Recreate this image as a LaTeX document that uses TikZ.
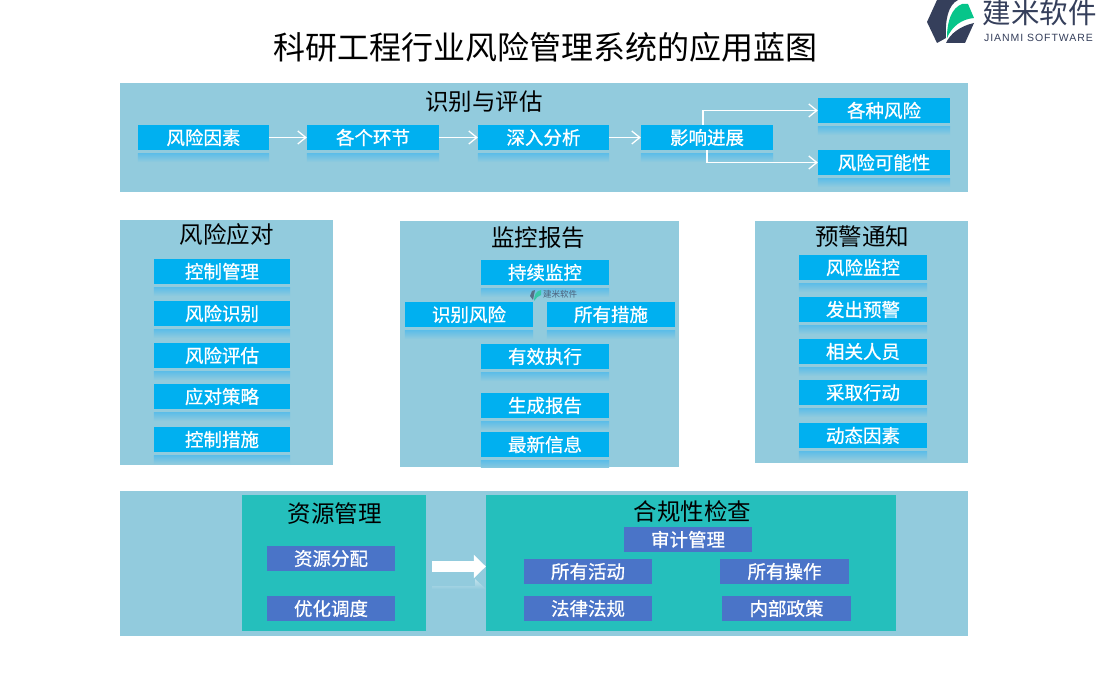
\documentclass[tikz,border=0pt]{standalone}
\usepackage{fontspec}
\setmainfont[RawFeature={embolden=0.8}]{Noto Sans CJK SC}
\newfontfamily\plaincjk{Noto Sans CJK SC}
\newfontfamily\latinlogo[LetterSpace=9]{Liberation Sans}
\usetikzlibrary{arrows.meta}
\definecolor{panelbg}{HTML}{92CBDD}
\definecolor{cyanbox}{HTML}{00B0F0}
\definecolor{reflbox}{HTML}{5CBDE8}
\definecolor{bluebox}{HTML}{4A74C8}
\definecolor{tealbox}{HTML}{25BFBC}
\definecolor{logodark}{HTML}{353F5B}
\definecolor{logogreen}{HTML}{06C58A}
\newcommand{\cjksize}[1]{\fontsize{#1}{#1}\selectfont}
\newcommand{\reflect}[1]{\shade[top color=reflbox,bottom color=panelbg] ([yshift=-3pt]#1.south west) rectangle ([yshift=-12pt]#1.south east);}
\tikzset{
  panel/.style={fill=panelbg,draw=none,inner sep=0pt},
  cyan box/.style={fill=cyanbox,text=white,inner sep=0pt,minimum height=25pt,font=\cjksize{18.5}},
  blue box/.style={fill=bluebox,text=white,inner sep=0pt,minimum width=128pt,minimum height=25pt,font=\cjksize{18.5}},
  teal panel/.style={fill=tealbox,inner sep=0pt},
  section title/.style={text=black,inner sep=0pt,font=\plaincjk\cjksize{23.5}},
  link/.style={draw=white,line width=1.3pt,-{Straight Barb[length=8pt,width=13pt,line width=1.3pt]}},
}
\begin{document}
\begin{tikzpicture}[x=1pt,y=-1pt]
\useasboundingbox (0,0) rectangle (1100,700);
\fill[white] (0,0) rectangle (1100,700);

% title and logo
\node[inner sep=0pt,font=\plaincjk\cjksize{32},text=black] (title) at (545,47) {科研工程行业风险管理系统的应用蓝图};
\fill[logodark] (937,0) -- (958,0) .. controls (948,5) and (945,20) .. (946,38) -- (937,43) -- (927,22) -- cycle;
\fill[logogreen] (947,38) .. controls (947,20) and (952,8) .. (962,4) -- (968,4) -- (974,18) .. controls (962,19) and (952,26) .. (947,38) -- cycle;
\fill[logodark] (946,43) .. controls (950,34) and (960,26) .. (974,23) -- (965,43) -- cycle;
\node[inner sep=0pt,font=\plaincjk\cjksize{28.5},text=logodark] (logotext) at (1039.5,13) {建米软件};
\node[inner sep=0pt,font=\latinlogo\fontsize{10.5}{11}\selectfont,text=logodark] (logosub) at (1038.5,38) {JIANMI SOFTWARE};

% panels
\node[panel,minimum width=848pt,minimum height=109pt] (p1) at (544,137.5) {};
\node[panel,minimum width=213pt,minimum height=245pt] (p2) at (226.5,342.5) {};
\node[panel,minimum width=279pt,minimum height=246pt] (p3) at (539.5,344) {};
\node[panel,minimum width=213pt,minimum height=242pt] (p4) at (861.5,342) {};
\node[panel,minimum width=848pt,minimum height=145pt] (p5) at (544,563.5) {};

% identification
\node[section title] (t1) at (484,102) {识别与评估};
\node[cyan box,minimum width=131pt] (a1) at (203.5,137.5) {风险因素};
\node[cyan box,minimum width=132pt] (a2) at (373,137.5) {各个环节};
\node[cyan box,minimum width=131pt] (a3) at (543.5,137.5) {深入分析};
\node[cyan box,minimum width=132pt] (a4) at (707,137.5) {影响进展};
\node[cyan box,minimum width=132pt] (a5) at (884,110.5) {各种风险};
\node[cyan box,minimum width=132pt] (a6) at (884,162.5) {风险可能性};
\foreach \n in {a1,a2,a3,a4,a5,a6} {\reflect{\n}}
\draw[link] (a1) -- (a2);
\draw[link] (a2) -- (a3);
\draw[link] (a3) -- (a4);
\draw[link] ([xshift=-4pt]a4.north) |- (a5.west);
\draw[link] (a4.south) |- (a6.west);

% response
\node[section title] (t2) at (226.5,235) {风险应对};
\node[cyan box,minimum width=136pt] (b1) at (222,271.5) {控制管理};
\node[cyan box,minimum width=136pt] (b2) at (222,313.5) {风险识别};
\node[cyan box,minimum width=136pt] (b3) at (222,355.5) {风险评估};
\node[cyan box,minimum width=136pt] (b4) at (222,396.5) {应对策略};
\node[cyan box,minimum width=136pt] (b5) at (222,439.5) {控制措施};
\foreach \n in {b1,b2,b3,b4,b5} {\reflect{\n}}

% monitoring
\node[section title] (t3) at (538,238) {监控报告};
\node[cyan box,minimum width=128pt] (c1) at (545,272.5) {持续监控};
\node[cyan box,minimum width=128pt] (c2) at (469,314.5) {识别风险};
\node[cyan box,minimum width=128pt] (c3) at (611,314.5) {所有措施};
\node[cyan box,minimum width=128pt] (c4) at (545,356.5) {有效执行};
\node[cyan box,minimum width=128pt] (c5) at (545,405.5) {生成报告};
\node[cyan box,minimum width=128pt] (c6) at (545,444.5) {最新信息};
\foreach \n in {c1,c2,c3,c4,c5} {\reflect{\n}}
\begin{scope}
\clip (p3.north west) rectangle (p3.south east);
\reflect{c6}
\end{scope}
\fill[logodark!65!panelbg] (532,291) -- (535,290) -- (533,300) -- (530,296) -- cycle;
\fill[logogreen!65!panelbg] (534,301) .. controls (534,295) and (536,291) .. (541,290) -- (541,295) .. controls (538,296) and (536,298) .. (534,301) -- cycle;
\node[inner sep=0pt,font=\plaincjk\cjksize{8.5},text=logodark!75!panelbg] (wm) at (560,294.5) {建米软件};

% warning
\node[section title] (t4) at (862,237) {预警通知};
\node[cyan box,minimum width=128pt] (d1) at (863,267.5) {风险监控};
\node[cyan box,minimum width=128pt] (d2) at (863,309.5) {发出预警};
\node[cyan box,minimum width=128pt] (d3) at (863,351.5) {相关人员};
\node[cyan box,minimum width=128pt] (d4) at (863,392.5) {采取行动};
\node[cyan box,minimum width=128pt] (d5) at (863,435.5) {动态因素};
\foreach \n in {d1,d2,d3,d4,d5} {\reflect{\n}}

% bottom
\node[teal panel,minimum width=184pt,minimum height=136pt] (e0) at (334,563) {};
\node[teal panel,minimum width=410pt,minimum height=136pt] (f0) at (691,563) {};
\node[section title] (t5) at (334.5,514) {资源管理};
\node[section title] (t6) at (692.5,511) {合规性检查};
\node[blue box] (e1) at (331,558.5) {资源分配};
\node[blue box] (e2) at (331,608.5) {优化调度};
\node[blue box] (f1) at (688,539.5) {审计管理};
\node[blue box] (f2) at (588,571.5) {所有活动};
\node[blue box,minimum width=129pt] (f3) at (784.5,571.5) {所有操作};
\node[blue box] (f4) at (588,608.5) {法律法规};
\node[blue box,minimum width=129pt] (f5) at (786.5,608.5) {内部政策};

% big arrow
\coordinate (arrowstart) at (432,566.5);
\shade[top color=white!45!panelbg,bottom color=panelbg] (432,586) -- (475,586) -- (475,579) -- (486,589) -- (432,589) -- cycle;
\draw[white,line width=11pt,-{Triangle[length=12pt,width=23pt]}] (arrowstart) -- (f0.west |- arrowstart);
\end{tikzpicture}
\end{document}
